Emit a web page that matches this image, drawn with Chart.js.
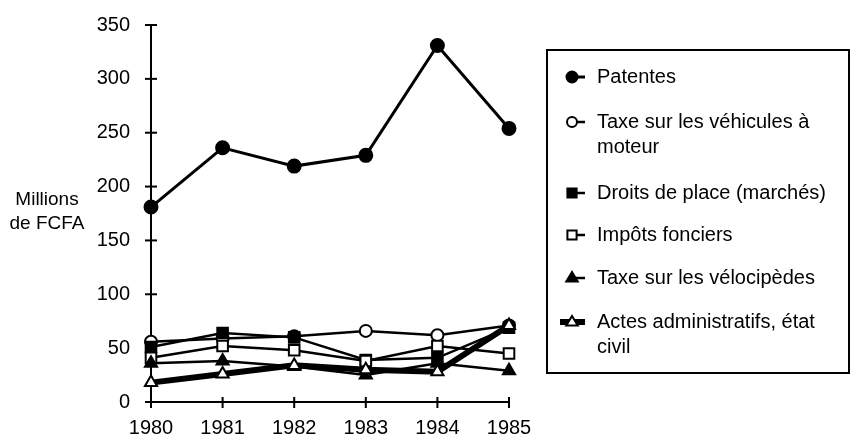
<!DOCTYPE html>
<html>
<head>
<meta charset="utf-8">
<script src="https://cdn.jsdelivr.net/npm/chart.js@4/dist/chart.umd.min.js"></script>
<style>
  html, body { margin: 0; padding: 0; background: #fff; }
  #wrap { width: 851px; height: 439px; position: relative; }
</style>
</head>
<body>
<div id="wrap"><canvas id="chart" width="851" height="439"></canvas></div>
<script>
// données (millions de FCFA)
const years = ['1980', '1981', '1982', '1983', '1984', '1985'];
const patentes = [181, 236, 219, 229, 331, 254];
const vehicules = [56, 59, 61, 66, 62, 71];
const droitsPlace = [51, 64, 60, 39, 41, 69];
const impotsFonciers = [41, 52, 48, 38, 52, 45];
const velocipedes = [36, 38, 33, 25, 36, 29];
const actesAdmin = [18, 26, 34, 30, 28, 71];
const yTicks = [0, 50, 100, 150, 200, 250, 300, 350];

const FONT = '"Liberation Sans", Arial, Helvetica, sans-serif';

// séries + style des marqueurs
const seriesDefs = [
    { label: ['Patentes'], data: patentes, style: 'circle', fill: '#000', width: 3, radius: 6.5 },
    { label: ['Taxe sur les véhicules à', 'moteur'], data: vehicules, style: 'circle', fill: '#fff', width: 2.5, radius: 6 },
    { label: ['Droits de place (marchés)'], data: droitsPlace, style: 'rect', fill: '#000', width: 2.5, radius: 7.5 },
    { label: ['Impôts fonciers'], data: impotsFonciers, style: 'rect', fill: '#fff', width: 2.5, radius: 7.5 },
    { label: ['Taxe sur les vélocipèdes'], data: velocipedes, style: 'triangle', fill: '#000', width: 2.5, radius: 7 },
    { label: ['Actes administratifs, état', 'civil'], data: actesAdmin, style: 'triangle', fill: '#fff', width: 6, radius: 7 }
];

// dessin d'un marqueur (pour la légende)
function drawMarker(ctx, style, x, y, r, fill) {
    ctx.save();
    ctx.fillStyle = fill;
    ctx.strokeStyle = '#000';
    ctx.lineWidth = 2;
    ctx.beginPath();
    if (style === 'circle') {
        ctx.arc(x, y, r, 0, Math.PI * 2);
    } else if (style === 'rect') {
        const s = r * Math.SQRT1_2;
        ctx.rect(x - s, y - s, 2 * s, 2 * s);
    } else {
        ctx.moveTo(x, y - r);
        ctx.lineTo(x + r * 0.95, y + r * 0.6);
        ctx.lineTo(x - r * 0.95, y + r * 0.6);
        ctx.closePath();
    }
    ctx.fill();
    ctx.stroke();
    ctx.restore();
}

// axes, titre et légende dessinés à la main
const decorPlugin = {
    id: 'decor',
    afterDraw(chart) {
        const ctx = chart.ctx;
        const xs = chart.scales.x;
        const ys = chart.scales.y;
        const area = chart.chartArea;
        ctx.save();
        ctx.strokeStyle = '#000';
        ctx.lineWidth = 2;
        // graduations croisées
        yTicks.forEach(v => {
            const py = ys.getPixelForValue(v);
            ctx.beginPath();
            ctx.moveTo(area.left - 6, py);
            ctx.lineTo(area.left + 6, py);
            ctx.stroke();
        });
        years.forEach((_, i) => {
            const px = xs.getPixelForValue(i);
            ctx.beginPath();
            ctx.moveTo(px, area.bottom - 5);
            ctx.lineTo(px, area.bottom + 6);
            ctx.stroke();
        });
        // titre de l'axe Y
        ctx.fillStyle = '#000';
        ctx.font = '19px ' + FONT;
        ctx.textAlign = 'center';
        ctx.textBaseline = 'middle';
        ctx.fillText('Millions', 47, 200);
        ctx.fillText('de FCFA', 47, 224);

        // légende
        const box = { left: 547, top: 50, right: 849, bottom: 373 };
        ctx.lineWidth = 2;
        ctx.strokeRect(box.left, box.top, box.right - box.left, box.bottom - box.top);
        const rowsY = [77, 122, 193, 235, 278, 322];
        ctx.font = '20px ' + FONT;
        ctx.textAlign = 'left';
        seriesDefs.forEach((s, i) => {
            const y = rowsY[i];
            const mx = 572;
            ctx.lineWidth = s.width;
            ctx.beginPath();
            ctx.moveTo(s.width > 3 ? mx - 12 : mx, y);
            ctx.lineTo(mx + 13, y);
            ctx.stroke();
            drawMarker(ctx, s.style, mx, y, s.radius - 1, s.fill);
            ctx.fillStyle = '#000';
            s.label.forEach((line, j) => {
                ctx.fillText(line, 597, y + j * 25);
            });
        });
        ctx.restore();
    }
};

const ctx = document.getElementById('chart').getContext('2d');
new Chart(ctx, {
    type: 'line',
    data: {
        labels: years,
        datasets: seriesDefs.map((s, i) => ({
            label: s.label.join(' '),
            data: s.data,
            borderColor: '#000',
            borderWidth: s.width,
            pointStyle: s.style,
            pointRadius: s.radius,
            pointBackgroundColor: s.fill,
            pointBorderColor: '#000',
            pointBorderWidth: 2,
            tension: 0,
            fill: false,
            order: seriesDefs.length - i
        }))
    },
    options: {
        responsive: false,
        animation: false,
        layout: { padding: { top: 18, right: 342, bottom: 0, left: 0 } },
        plugins: {
            legend: { display: false },
            tooltip: { enabled: false }
        },
        scales: {
            x: {
                offset: false,
                grid: { display: false },
                border: { display: true, color: '#000', width: 2 },
                ticks: { color: '#000', font: { family: FONT, size: 20 }, padding: 6, maxRotation: 0 },
                afterFit: scale => { scale.height = 37; }
            },
            y: {
                min: 0,
                max: 350,
                grid: { display: false },
                border: { display: true, color: '#000', width: 2 },
                ticks: { stepSize: 50, color: '#000', font: { family: FONT, size: 20 }, padding: 13 },
                afterFit: scale => { scale.width = 151; }
            }
        }
    },
    plugins: [decorPlugin]
});
</script>
</body>
</html>
